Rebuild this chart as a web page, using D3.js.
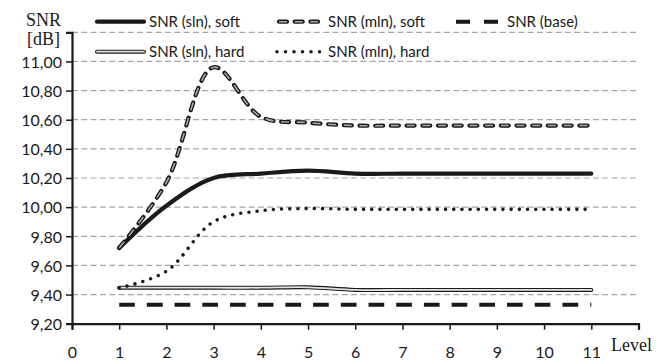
<!DOCTYPE html>
<html>
<head>
<meta charset="utf-8">
<script src="https://cdn.jsdelivr.net/npm/d3@7"></script>
<style>
  body { margin: 0; background: #fff; }
  svg { display: block; }
  .sans { font-family: Lato, "Open Sans", sans-serif; fill: #1a1a1a; }
  .serif { font-family: "Liberation Serif", "DejaVu Serif", serif; fill: #1a1a1a; }
</style>
</head>
<body>
<svg id="chart" width="668" height="360"></svg>
<script>
// chart data
const levels = [1, 2, 3, 4, 5, 6, 7, 8, 9, 10, 11];
const snrSlnSoft = [9.72, 10.01, 10.20, 10.23, 10.25, 10.23, 10.23, 10.23, 10.23, 10.23, 10.23];
const snrMlnSoft = [9.72, 10.17, 10.96, 10.62, 10.58, 10.56, 10.56, 10.56, 10.56, 10.56, 10.56];
const snrBase = [9.33, 9.33, 9.33, 9.33, 9.33, 9.33, 9.33, 9.33, 9.33, 9.33, 9.33];
const snrSlnHard = [9.447, 9.447, 9.447, 9.447, 9.45, 9.432, 9.432, 9.432, 9.432, 9.432, 9.432];
const snrMlnHard = [9.445, 9.56, 9.90, 9.975, 9.99, 9.985, 9.985, 9.985, 9.985, 9.985, 9.985];

const xTicks = [0, 1, 2, 3, 4, 5, 6, 7, 8, 9, 10, 11, 12];
const yTicks = [9.2, 9.4, 9.6, 9.8, 10.0, 10.2, 10.4, 10.6, 10.8, 11.0, 11.2];

const svg = d3.select('#chart');

const x = d3.scaleLinear().domain([0, 12]).range([72, 638.5]);
const y = d3.scaleLinear().domain([9.2, 11.2]).range([323.7, 32.3]);

const fmt = function(v) {
  return d3.format('.2f')(v).replace('.', ',');
};

// grid lines
svg.append('g')
  .selectAll('line')
  .data(yTicks.slice(1))
  .enter()
  .append('line')
  .attr('x1', x(0))
  .attr('x2', x(12))
  .attr('y1', d => y(d))
  .attr('y2', d => y(d))
  .attr('stroke', '#a6a6a6')
  .attr('stroke-width', 1.2)
  .attr('stroke-dasharray', '6 3.3');

// axes
const yAxis = svg.append('g')
  .attr('transform', 'translate(' + x(0) + ',0)')
  .call(d3.axisLeft(y).tickValues(yTicks).tickSize(6).tickPadding(4)
    .tickFormat(d => d > 11.1 ? '' : fmt(d)));

const xAxis = svg.append('g')
  .attr('transform', 'translate(0,' + y(9.2) + ')')
  .call(d3.axisBottom(x).tickValues(xTicks).tickSize(6).tickPadding(17)
    .tickFormat(d => d === 12 ? '' : d));

[xAxis, yAxis].forEach(function(a) {
  a.select('.domain').attr('stroke', '#1a1a1a').attr('stroke-width', 2.2);
  a.selectAll('.tick line').attr('stroke', '#1a1a1a').attr('stroke-width', 1.5);
  a.selectAll('.tick text')
    .attr('class', 'sans')
    .style('font-size', '16px')
    .attr('fill', '#1a1a1a');
});
yAxis.selectAll('.tick text').attr('dy', '0.36em');

// axis titles
svg.append('text').attr('class', 'serif').attr('x', 43.5).attr('y', 26)
  .attr('text-anchor', 'middle').style('font-size', '18px').text('SNR');
svg.append('text').attr('class', 'serif').attr('x', 43.5).attr('y', 45)
  .attr('text-anchor', 'middle').style('font-size', '18px').text('[dB]');
svg.append('text').attr('class', 'serif').attr('x', 611).attr('y', 351)
  .style('font-size', '18px').text('Level');

const line = d3.line()
  .x(d => x(d[0]))
  .y(d => y(d[1]))
  .curve(d3.curveCatmullRom);

function pts(values) {
  return levels.map(function(l, i) { return [l, values[i]]; });
}

// series styles, each is a list of stroke layers
const styles = {
  slnSoft: [{ stroke: '#1a1a1a', width: 4.2, dash: null, cap: 'round' }],
  mlnSoft: [
    { stroke: '#1a1a1a', width: 4.2, dash: '8 7.7', cap: 'round' },
    { stroke: '#a8a8a8', width: 1.6, dash: '8 7.7', cap: 'butt' }
  ],
  base: [{ stroke: '#1a1a1a', width: 4, dash: '15.7 12', cap: 'butt' }],
  slnHard: [
    { stroke: '#1a1a1a', width: 4, dash: null, cap: 'round' },
    { stroke: '#e4e4e4', width: 1.8, dash: null, cap: 'round' }
  ],
  mlnHard: [{ stroke: '#1a1a1a', width: 3.6, dash: '0 8.2', cap: 'round' }]
};

const series = [
  { key: 'base', values: snrBase },
  { key: 'slnHard', values: snrSlnHard },
  { key: 'mlnHard', values: snrMlnHard },
  { key: 'slnSoft', values: snrSlnSoft },
  { key: 'mlnSoft', values: snrMlnSoft }
];

function drawPath(g, d, layers) {
  layers.forEach(function(s) {
    g.append('path')
      .attr('d', d)
      .attr('fill', 'none')
      .attr('stroke', s.stroke)
      .attr('stroke-width', s.width)
      .attr('stroke-linecap', s.cap)
      .attr('stroke-dasharray', s.dash)
      .attr('stroke-dashoffset', s.offset || 0);
  });
}

const plot = svg.append('g');
series.forEach(function(s) {
  drawPath(plot, line(pts(s.values)), styles[s.key]);
});

// legend
const legend = [
  { key: 'slnSoft', label: 'SNR (sln), soft', x: 97, x2: 144, y: 21.7 },
  { key: 'mlnSoft', label: 'SNR (mln), soft', x: 279, x2: 318, y: 21.7 },
  { key: 'base', label: 'SNR (base)', x: 456, x2: 498, y: 21.7 },
  { key: 'slnHard', label: 'SNR (sln), hard', x: 97, x2: 144, y: 51.7 },
  { key: 'mlnHard', label: 'SNR (mln), hard', x: 277, x2: 320, y: 51.7 }
];

const lg = svg.append('g');
legend.forEach(function(l) {
  let layers = styles[l.key];
  if (l.key === 'base') {
    layers = [{ stroke: '#1a1a1a', width: 4, dash: '14 14', cap: 'butt' }];
  } else if (l.key === 'mlnHard') {
    layers = [{ stroke: '#1a1a1a', width: 3.6, dash: '0 8.5', cap: 'round' }];
  }
  drawPath(lg, 'M' + l.x + ',' + l.y + 'H' + l.x2, layers);
  lg.append('text')
    .attr('class', 'sans')
    .attr('x', l.key === 'base' ? l.x2 + 9 : (l.key.indexOf('mln') === 0 ? 328 : l.x2 + 5))
    .attr('y', l.y + 5.5)
    .style('font-size', '15px')
    .text(l.label);
});
</script>
</body>
</html>
